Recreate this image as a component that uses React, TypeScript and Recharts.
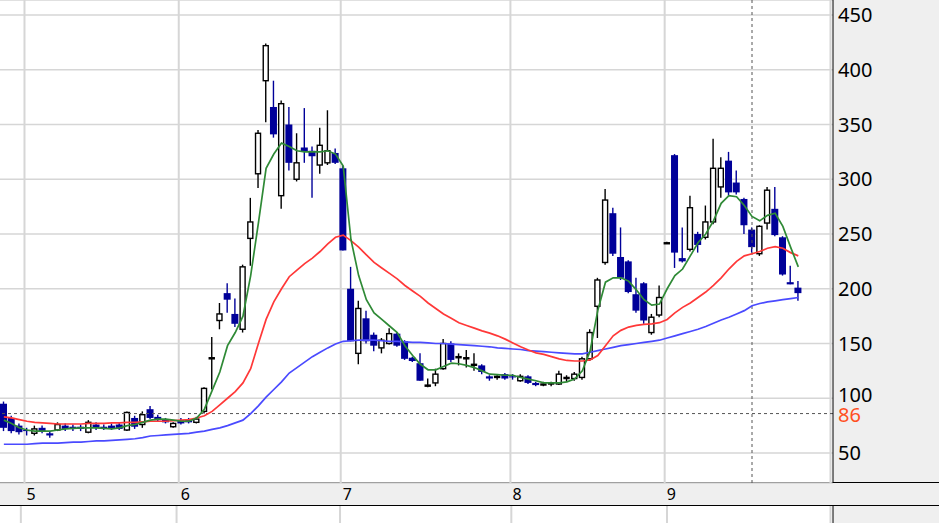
import React from 'react';
import { ComposedChart, Bar, Line, XAxis, YAxis, CartesianGrid, ReferenceLine } from 'recharts';

// daily candles, May -> Sep, plus a few empty slots on the right
const slotCount = 108;
const monthStarts = [3, 23, 44, 66, 86];
const monthLabels = ['5', '6', '7', '8', '9'];
const priceTicks = [50, 100, 150, 200, 250, 300, 350, 400, 450];
const lastPrice = 86;
const cursorDay = 97;

const opens = [
  95, 82, 75, 71, 68, 73, 68, 71, 75, 74,
  74, 69, 76, 74, 75, 76, 71, 82, 76, 90,
  83, 81, 74, 80, 81, 78, 88, 136, 171, 196,
  177, 163, 246, 305, 390, 366, 285, 350, 300, 329,
  326, 313, 315, 324, 310, 200, 141, 173, 158, 146,
  150, 159, 152, 137, 132, 111, 114, 127, 150, 137,
  136, 131, 130, 120, 119, 122, 120, 116, 120, 114,
  113, 113, 113, 118, 118, 119, 136, 184, 224, 269,
  229, 225, 195, 205, 160, 176, 242, 322, 228, 236,
  250, 247, 261, 293, 317, 297, 282, 254, 232, 260,
  273, 247, 206, 201,
];
const highs = [
  97, 84, 77, 73, 75, 75, 70, 78, 77, 76,
  76, 80, 78, 76, 77, 78, 88, 84, 88, 93,
  85, 82, 78, 82, 82, 83, 110, 156, 187, 205,
  191, 222, 283, 345, 424, 390, 372, 366, 342, 365,
  330, 347, 363, 328, 312, 220, 189, 180, 160, 155,
  164, 160, 153, 138, 141, 118, 127, 154, 152, 141,
  144, 141, 131, 121, 121, 123, 122, 122, 121, 115,
  115, 115, 125, 121, 124, 138, 163, 210, 291, 274,
  256, 226, 210, 206, 177, 203, 243, 323, 256, 285,
  252, 276, 337, 320, 325, 308, 283, 256, 258, 293,
  293, 248, 221, 207,
];
const lows = [
  70, 68, 67, 66, 66, 68, 64, 70, 70, 70,
  70, 68, 71, 71, 71, 71, 70, 72, 73, 81,
  79, 77, 73, 76, 77, 77, 86, 108, 163, 178,
  165, 160, 221, 292, 352, 338, 273, 308, 298, 315,
  283, 305, 313, 314, 235, 152, 131, 150, 143, 141,
  149, 147, 135, 133, 116, 110, 111, 126, 133, 130,
  128, 125, 122, 116, 117, 117, 117, 115, 113, 111,
  111, 111, 112, 115, 116, 117, 134, 155, 222, 230,
  208, 196, 178, 168, 158, 174, 241, 219, 224, 234,
  233, 245, 259, 283, 285, 286, 250, 233, 230, 254,
  248, 212, 204, 189,
];
const closes = [
  73, 70, 69, 70, 72, 70, 66, 76, 72, 72,
  72, 78, 73, 72, 72, 72, 87, 74, 85, 82,
  80, 78, 77, 77, 78, 81, 109, 137, 177, 190,
  168, 220, 261, 342, 422, 341, 369, 315, 315, 325,
  321, 331, 326, 315, 235, 152, 182, 152, 148, 153,
  159, 148, 136, 134, 116, 112, 122, 150, 135, 138,
  137, 131, 124, 118, 120, 118, 119, 120, 114, 112,
  113, 114, 122, 119, 122, 136, 160, 208, 281, 232,
  210, 197, 180, 171, 174, 192, 242, 233, 225, 274,
  240, 261, 310, 310, 288, 288, 258, 238, 257, 290,
  249, 213, 204, 196,
];

// moving averages
const ma5 = [
  80, 77, 73, 71, 70, 70, 70, 71, 72, 72.5,
  73, 73, 73, 72.5, 72, 73, 75, 76, 78, 80,
  81, 81, 80, 79, 79, 82, 90, 107, 124, 148,
  160, 175, 212, 260, 310, 323, 333, 330, 326, 325,
  325, 325, 326, 323, 312, 245, 212, 190, 178, 172,
  166, 160, 148, 139, 131, 126, 126, 129, 132, 131.5,
  130, 128, 125, 122, 121.5, 121, 121, 119, 117.5, 116,
  114, 114, 114, 115, 117.5, 125, 143, 180, 206, 210,
  210, 207, 199, 190, 185, 186, 200, 212, 218, 230,
  242, 250, 262, 278, 285, 284, 276, 266, 262, 267,
  269, 257, 238, 220,
];
const ma25 = [
  83, 82, 80.5, 79, 78, 77.5, 77, 76.5, 76.5, 76.5,
  76.5, 77, 77, 77, 77.5, 77.5, 78, 78, 78.5, 79,
  79, 79, 79.5, 80, 80.5, 82, 84, 88, 94, 100,
  106, 114, 127, 150, 172, 188, 200, 211, 217, 223,
  228, 234, 241, 247, 249, 244, 238, 231, 224, 219,
  214, 209, 203, 198, 193, 187, 182, 177, 173, 169,
  166.5, 164, 161.5, 159.5, 157, 154, 150.5, 147, 144, 141.5,
  140, 138, 136, 134.5, 134, 134, 135, 139, 148, 157,
  162, 165, 166.5, 167.5, 168, 169, 172, 178, 183, 187,
  192, 197, 203, 210, 218, 225, 230, 232, 234, 237,
  238.5, 237, 233, 230,
];
const ma75 = [
  58, 58, 58, 58, 58.5, 59, 59, 59, 59.5, 60,
  60, 60.5, 61, 61, 61.5, 62, 62.5, 63, 64, 65.5,
  66, 66.5, 67, 67.5, 68, 69, 70, 71.5, 73, 75,
  77.5, 80, 86, 93, 101, 108, 115, 123, 128, 133,
  138, 142, 146, 149.5, 152, 152.5, 153, 153, 153, 152.5,
  152, 152, 151.5, 151, 151, 150.5, 150, 150, 149.5, 149,
  148.5, 148, 147.5, 147, 146, 145.5, 145, 144.5, 143.5, 143,
  142.5, 142, 141.5, 141, 140.5, 140.5, 142, 143.5, 145, 146.5,
  148, 149, 150, 151, 152, 153, 155, 157, 159, 161,
  163, 165.5, 168.5, 171.5, 174, 177, 180, 184.5, 186.5, 188,
  189, 190, 191, 192,
];

const rows = Array.from({ length: slotCount }, (_, i) => ({
  i,
  o: opens[i] ?? null,
  h: highs[i] ?? null,
  l: lows[i] ?? null,
  c: closes[i] ?? null,
  ma5: ma5[i] ?? null,
  ma25: ma25[i] ?? null,
  ma75: ma75[i] ?? null,
}));

const DOWN = '#000099';
const GRID = '#d6d6d6';
const PANEL = '#efefef';
const GRID_SHIFT = 2.5;

function Candle(props: any) {
  const { x, y, width, height, payload } = props;
  if (payload == null || payload.o == null || height == null) return null;
  const top = Math.min(y, y + height);
  const ppu = Math.abs(height) / (payload.h - payload.l);
  const py = (v: number) => top + (payload.h - v) * ppu;
  const up = payload.c >= payload.o;
  const cx = x + width / 2;
  const bodyTop = py(Math.max(payload.o, payload.c));
  const bodyH = Math.max(1, Math.abs(py(payload.o) - py(payload.c)));
  const col = up ? '#000' : DOWN;
  return (
    <g>
      <line x1={cx} x2={cx} y1={top} y2={top + Math.abs(height)} stroke={col} strokeWidth={1.4} />
      {up ? (
        <rect x={x + 1} y={bodyTop} width={width - 2} height={bodyH} fill="#fff" stroke="#000" strokeWidth={1.4} />
      ) : (
        <rect x={x} y={bodyTop} width={width} height={bodyH} fill={DOWN} />
      )}
    </g>
  );
}

const vGrid = (p: any) => (
  <line x1={p.x1 - GRID_SHIFT} x2={p.x2 - GRID_SHIFT} y1={p.y1} y2={p.y2} stroke={GRID} strokeWidth={2} />
);

function PriceTick(props: any) {
  const { x, y, payload } = props;
  // the 100 label sits a little high, the last-price tag pushes it up
  const lift = payload.value === 100 ? -3 : 0;
  return (
    <text x={x} y={y + lift} dy="0.36em" fontSize={20} fill="#000" textAnchor="start">
      {payload.value}
    </text>
  );
}

function MonthTick(props: any) {
  const { x, y, payload } = props;
  const label = monthLabels[monthStarts.indexOf(payload.value)];
  return (
    <text x={x - GRID_SHIFT + 2} y={y + 11} dy="0.36em" fontSize={16} fill="#000" textAnchor="start">
      {label}
    </text>
  );
}

function LastLabel(props: any) {
  const vb = props.viewBox;
  if (!vb) return null;
  const x0 = vb.x + vb.width;
  return (
    <g>
      <rect x={x0 + 1} y={vb.y - 8} width={40} height={19} fill={PANEL} />
      <text x={x0 + 5} y={vb.y + 1.5} dy="0.36em" fontSize={20} fill="#ff4f1f" textAnchor="start">
        {lastPrice}
      </text>
    </g>
  );
}

export default function App() {
  return (
    <div
      style={{
        position: 'absolute',
        left: 0,
        top: 0,
        width: 951,
        height: 523,
        overflow: 'hidden',
        background: '#fff',
        fontFamily: "'Noto Sans', sans-serif",
      }}
    >
      <div style={{ position: 'absolute', left: 833, top: 0, width: 106, height: 523, background: PANEL }} />
      <div
        style={{
          position: 'absolute',
          left: 0,
          top: 482,
          width: 939,
          height: 24,
          boxSizing: 'border-box',
          background: PANEL,
          borderTop: '1px solid #000',
          borderBottom: '1px solid #000',
        }}
      />
      <div style={{ position: 'absolute', left: 0, top: 0 }}>
        <ComposedChart width={939} height={505} data={rows} margin={{ top: 0, right: 0, bottom: 0, left: 0 }}>
          <CartesianGrid stroke={GRID} strokeWidth={1.5} vertical={vGrid} />
          <XAxis
            dataKey="i"
            ticks={monthStarts}
            interval={0}
            height={22}
            axisLine={false}
            tickLine={false}
            tickSize={0}
            tickMargin={0}
            tick={<MonthTick />}
          />
          <YAxis
            orientation="right"
            width={106}
            domain={[22.6, 463.7]}
            allowDataOverflow
            ticks={priceTicks}
            axisLine={{ stroke: '#000' }}
            tickLine={false}
            tickSize={0}
            tickMargin={5}
            tick={<PriceTick />}
          />
          <ReferenceLine y={lastPrice} stroke="#555" strokeDasharray="3 3" label={<LastLabel />} />
          <ReferenceLine x={cursorDay} stroke="#555" strokeDasharray="3 3" />
          <Line dataKey="ma75" stroke="#4a4aff" strokeWidth={1.7} dot={false} activeDot={false} isAnimationActive={false} />
          <Line dataKey="ma25" stroke="#ff3838" strokeWidth={1.7} dot={false} activeDot={false} isAnimationActive={false} />
          <Bar
            dataKey={(d: any) => (d.o == null ? null : [d.l, d.h])}
            barSize={7}
            shape={(p: any) => <Candle {...p} />}
            activeBar={false}
            isAnimationActive={false}
          />
          <Line dataKey="ma5" stroke="#2f8a36" strokeWidth={1.7} dot={false} activeDot={false} isAnimationActive={false} />
        </ComposedChart>
      </div>
      <div style={{ position: 'absolute', left: 0, top: 506, width: 939, height: 17, overflow: 'hidden' }}>
        <ComposedChart width={939} height={80} data={rows} margin={{ top: 0, right: 0, bottom: 0, left: 0 }}>
          <CartesianGrid stroke={GRID} horizontal={false} vertical={vGrid} />
          <XAxis dataKey="i" ticks={monthStarts} interval={0} hide />
          <YAxis
            orientation="right"
            width={106}
            domain={[0, 26.5]}
            ticks={[20]}
            axisLine={{ stroke: '#000' }}
            tickLine={false}
            tickSize={0}
            tickMargin={5}
            tick={<PriceTick />}
          />
          <Line dataKey="ma5" stroke="none" dot={false} activeDot={false} isAnimationActive={false} />
        </ComposedChart>
      </div>
    </div>
  );
}
